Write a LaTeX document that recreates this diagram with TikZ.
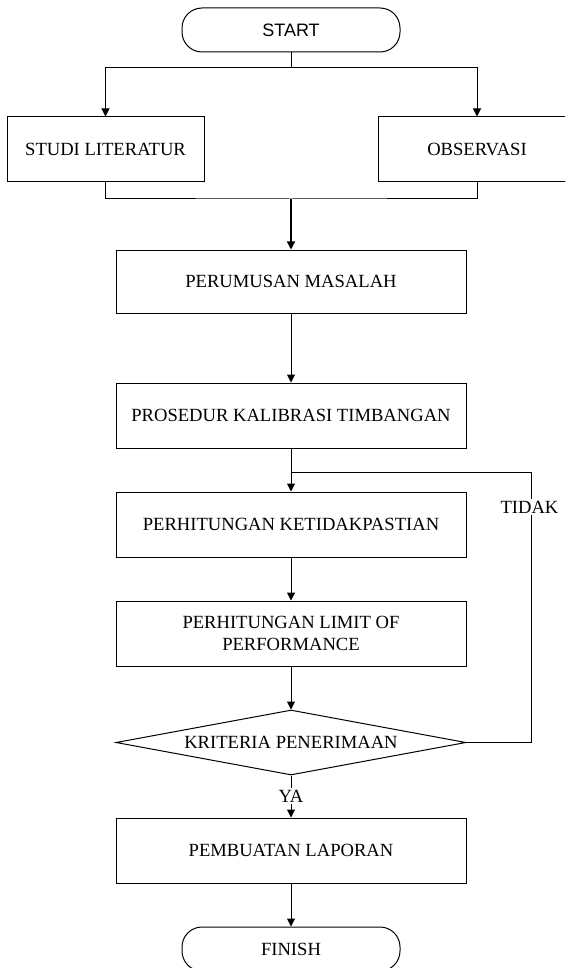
\documentclass[tikz,border=0pt]{standalone}
\usepackage{fontspec}
\setmainfont{Liberation Serif}
\newfontfamily\arialfont{Liberation Sans}
\usetikzlibrary{shapes.geometric,arrows.meta}
\begin{document}
\begin{tikzpicture}[x=1pt,y=-1pt,
  line width=1pt,
  txt/.style={font=\fontsize{18.6}{22}\selectfont},
  procbox/.style={draw, rectangle, txt, minimum width=350pt, minimum height=65pt, inner sep=2pt, align=center},
  sidebox/.style={draw, rectangle, txt, minimum width=197pt, minimum height=65pt, inner sep=2pt},
  termbox/.style={draw, rectangle, rounded corners=20pt, minimum width=218pt, minimum height=44pt, inner sep=2pt},
  decbox/.style={draw, diamond, txt, minimum width=350pt, minimum height=65pt, inner sep=0pt, aspect=5.4},
  arr/.style={-{Triangle[length=8pt,width=8pt]}},
  lbl/.style={txt, fill=white, inner sep=1.5pt}
]
\useasboundingbox (0,0) rectangle (565,968);
\clip (0,0) rectangle (565,968);

\node[termbox, font=\arialfont\fontsize{18}{22}\selectfont] (start) at (291,30) {START};
\node[sidebox] (studi) at (105.5,149.5) {STUDI LITERATUR};
\node[sidebox, minimum width=198pt] (obs) at (477,149.5) {OBSERVASI};
\node[procbox, minimum height=63pt] (rumus) at (291,281.5) {PERUMUSAN MASALAH};
\node[procbox] (prosedur) at (291,415.5) {PROSEDUR KALIBRASI TIMBANGAN};
\node[procbox] (ketidak) at (291,524.5) {PERHITUNGAN KETIDAKPASTIAN};
\node[procbox] (limit) at (291,633.5) {PERHITUNGAN LIMIT OF\\PERFORMANCE};
\node[decbox] (krit) at (291,742.5) {KRITERIA PENERIMAAN};
\node[procbox] (buat) at (291,850.5) {PEMBUATAN LAPORAN};
\node[termbox, txt] (finish) at (291,949) {FINISH};

\coordinate (split) at (291,68);
\coordinate (join) at (291,199);
\coordinate (merge) at (291,472);
\coordinate (loopc) at (531,472);

\draw (start.south) -- (split);
\draw[arr] (split) -| (studi.north);
\draw[arr] (split) -| (obs.north);
\draw (studi.south) |- (join) -| (obs.south);
\draw[arr, line width=1.4pt] (join) -- (rumus.north);
\draw[arr] (rumus.south) -- (prosedur.north);
\draw[arr] (prosedur.south) -- (ketidak.north);
\draw[arr] (ketidak.south) -- (limit.north);
\draw[arr] (limit.south) -- (krit.north);
\draw (krit.east) -- (loopc |- krit.east) -- (loopc) -- (merge);
\node[lbl] (tidak) at (529.5,507) {TIDAK};
\draw[arr] (krit.south) -- (buat.north);
\node[lbl] (ya) at (291,796) {YA};
\draw[arr] (buat.south) -- (finish.north);
\end{tikzpicture}
\end{document}
